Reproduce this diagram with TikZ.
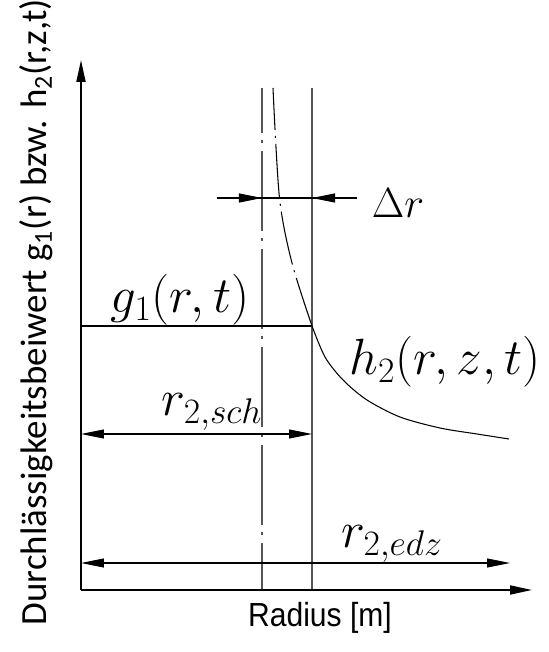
\RequirePackage{fix-cm}
\documentclass[tikz,border=0pt]{standalone}
\usepackage{amsmath}
\usepackage[no-math]{fontspec}
\usepackage{tikz}
\usetikzlibrary{arrows.meta,positioning,calc}
\newfontfamily\calibrifont{Carlito}
\newfontfamily\arialfont{Liberation Sans}
\definecolor{linie}{HTML}{555555}
\definecolor{kurvcol}{HTML}{000000}
\newcommand{\formelgr}{\fontsize{29}{32}\selectfont}

\begin{document}
\begin{tikzpicture}[
    achse/.style={line width=1.1pt,-{Triangle[length=4.4mm,width=1.8mm]}},
    masslinie/.style={line width=0.6pt},
    spitze/.style={-{Triangle[length=4.6mm,width=1.8mm]}},
    doppel/.style={{Triangle[length=4.6mm,width=1.8mm]}-{Triangle[length=4.6mm,width=1.8mm]}},
    mittellinie/.style={line width=0.6pt,linie,dash pattern=on 1.6cm off 0.14cm on 0.06cm off 0.16cm,dash phase=0.7cm},
    kurve/.style={line width=0.6pt,kurvcol},
    formel/.style={font=\formelgr,inner sep=0pt},
  ]
    \useasboundingbox (-1.62,-1.24) rectangle (9.34,11.8);
    \coordinate (O) at (0,0);
    \coordinate (ytop) at (0,10.6);
    \coordinate (xend) at (9.02,0);
    \coordinate (mtop) at (3.62,10.04);
    \coordinate (mbot) at (3.62,0);
    \coordinate (stop) at (4.62,10.04);
    \coordinate (sbot) at (4.62,0);
    \coordinate (gleft) at (0,5.28);
    \coordinate (gright) at (4.62,5.28);
    \coordinate (schl) at (0,3.12);
    \coordinate (schr) at (4.62,3.12);
    \coordinate (edzl) at (0,0.54);
    \coordinate (edzr) at (8.58,0.54);
    \coordinate (dra) at (2.72,7.84);
    \coordinate (drm) at (3.62,7.84);
    \coordinate (drs) at (4.62,7.84);
    \coordinate (dre) at (5.52,7.84);

    \draw[mittellinie] (mtop) -- (mbot);
    \draw[masslinie,linie] (stop) -- (sbot);
    \draw[masslinie] (gleft) -- (gright);
    \draw[kurve,dash pattern=on 1.08cm off 0.12cm on 0.04cm off 0.12cm,dash phase=0.24cm]
      plot[smooth] coordinates {(3.84,10.04) (3.97,7.84) (4.22,6.54) (4.62,5.28)};
    \draw[kurve] plot[smooth] coordinates {(4.62,5.28) (4.88,4.66) (5.24,4.20) (5.72,3.80) (6.38,3.46) (7.18,3.24) (7.92,3.12) (8.56,3.02)};

    \draw[masslinie] (dra) -- (dre);
    \draw[masslinie,spitze] (dra) -- (drm);
    \draw[masslinie,spitze] (dre) -- (drs);
    \draw[masslinie,doppel] (schl) -- (schr);
    \draw[masslinie,doppel] (edzl) -- (edzr);

    \draw[achse] (O) -- (ytop);
    \draw[achse] (O) -- (xend);

    \node[formel] (gtext) at (1.98,5.8) {$g_1(r,t)$};
    \node[formel] (htext) at (7.28,4.56) {$h_2(r,z,t)$};
    \node[formel] (schtext) at (2.62,3.56) {$r_{2,sch}$};
    \node[formel] (edztext) at (6.22,0.92) {$r_{2,edz}$};
    \node[formel,font=\fontsize{24}{26}\selectfont] (drtext) at (6.34,7.74) {$\Delta r$};
    \node[xscale=0.9,font=\arialfont\fontsize{19}{22}\selectfont] (xtitel) at (4.78,-0.56) {Radius [m]};
    \node[rotate=90,font=\calibrifont\fontsize{21}{24}\selectfont] (ytitel) at (-0.9,5.56)
      {Durchlässigkeitsbeiwert g\textsubscript{1}(r) bzw. h\textsubscript{2}(r,z,t)};
\end{tikzpicture}
\end{document}
